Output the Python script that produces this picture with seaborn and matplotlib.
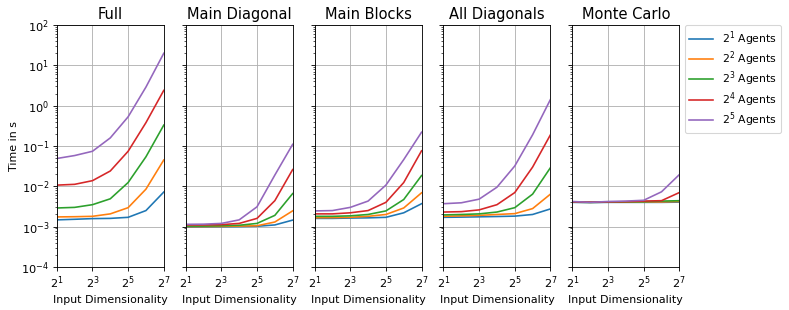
import numpy as np
import pandas as pd
import matplotlib
matplotlib.use("Agg")
import matplotlib.pyplot as plt
import seaborn as sns

dims = [2, 4, 8, 16, 32, 64, 128]
agents = [r"$2^{1}$ Agents", r"$2^{2}$ Agents", r"$2^{3}$ Agents", r"$2^{4}$ Agents", r"$2^{5}$ Agents"]
methods = ["Full", "Main Diagonal", "Main Blocks", "All Diagonals", "Monte Carlo"]

full = [
    [1.47e-3, 1.52e-3, 1.58e-3, 1.6e-3, 1.7e-3, 2.5e-3, 7.2e-3],
    [1.74e-3, 1.76e-3, 1.8e-3, 2.07e-3, 2.95e-3, 8.5e-3, 0.045],
    [2.9e-3, 3.0e-3, 3.5e-3, 4.9e-3, 0.0124, 0.054, 0.33],
    [0.0107, 0.0112, 0.0138, 0.024, 0.074, 0.38, 2.4],
    [0.049, 0.058, 0.074, 0.159, 0.53, 2.9, 20.0],
]
main_diag = [
    [0.97e-3, 0.98e-3, 0.99e-3, 1.0e-3, 1.02e-3, 1.1e-3, 1.45e-3],
    [1.0e-3, 1.0e-3, 1.01e-3, 1.03e-3, 1.05e-3, 1.3e-3, 2.46e-3],
    [1.03e-3, 1.03e-3, 1.05e-3, 1.08e-3, 1.2e-3, 1.9e-3, 6.6e-3],
    [1.1e-3, 1.1e-3, 1.12e-3, 1.2e-3, 1.6e-3, 4.4e-3, 0.026],
    [1.14e-3, 1.15e-3, 1.2e-3, 1.47e-3, 3.1e-3, 0.019, 0.11],
]
main_blocks = [
    [1.6e-3, 1.6e-3, 1.63e-3, 1.65e-3, 1.7e-3, 2.2e-3, 3.7e-3],
    [1.66e-3, 1.67e-3, 1.7e-3, 1.8e-3, 2.0e-3, 2.9e-3, 6.9e-3],
    [1.8e-3, 1.8e-3, 1.85e-3, 2.0e-3, 2.45e-3, 4.7e-3, 0.0185],
    [2.07e-3, 2.07e-3, 2.2e-3, 2.5e-3, 4.0e-3, 0.0124, 0.076],
    [2.45e-3, 2.5e-3, 3.0e-3, 4.3e-3, 0.0107, 0.046, 0.22],
]
all_diag = [
    [1.7e-3, 1.72e-3, 1.75e-3, 1.78e-3, 1.82e-3, 2.0e-3, 2.75e-3],
    [1.8e-3, 1.85e-3, 1.9e-3, 2.0e-3, 2.1e-3, 2.8e-3, 6.4e-3],
    [1.95e-3, 2.0e-3, 2.07e-3, 2.3e-3, 2.95e-3, 6.4e-3, 0.029],
    [2.3e-3, 2.35e-3, 2.6e-3, 3.5e-3, 7.0e-3, 0.030, 0.19],
    [3.7e-3, 3.9e-3, 4.8e-3, 9.5e-3, 0.032, 0.19, 1.43],
]
monte_carlo = [
    [4.0e-3, 3.95e-3, 4.0e-3, 4.0e-3, 4.0e-3, 4.0e-3, 4.05e-3],
    [4.05e-3, 4.0e-3, 4.05e-3, 4.05e-3, 4.1e-3, 4.1e-3, 4.2e-3],
    [4.05e-3, 4.0e-3, 4.05e-3, 4.1e-3, 4.15e-3, 4.3e-3, 4.4e-3],
    [4.1e-3, 4.05e-3, 4.1e-3, 4.15e-3, 4.3e-3, 4.4e-3, 7.0e-3],
    [4.2e-3, 4.0e-3, 4.2e-3, 4.3e-3, 4.5e-3, 7.3e-3, 0.0195],
]
all_data = [full, main_diag, main_blocks, all_diag, monte_carlo]

rows = []
for m, data in zip(methods, all_data):
    for a, series in zip(agents, data):
        for d, v in zip(dims, series):
            rows.append({"method": m, "agents": a, "dim": d, "time": v})
df = pd.DataFrame(rows)

DPI = 78
fig, axes = plt.subplots(1, 5, figsize=(789 / DPI, 310 / DPI), dpi=DPI, sharey=True)
fig.subplots_adjust(left=0.072, right=0.861, top=0.919, bottom=0.139, wspace=0.205)

palette = sns.color_palette("tab10", 5)
for i, (ax, m) in enumerate(zip(axes, methods)):
    sub = df[df["method"] == m]
    sns.lineplot(data=sub, x="dim", y="time", hue="agents", hue_order=agents,
                 palette=palette, ax=ax, legend=(i == 4), linewidth=1.5)
    ax.set_xscale("log", base=2)
    ax.set_yscale("log")
    ax.set_xlim(2, 128)
    ax.set_ylim(1e-4, 1e2)
    ax.set_xticks([2, 8, 32, 128])
    ax.xaxis.set_minor_locator(matplotlib.ticker.NullLocator())
    ax.grid(True, which="major", color="#b0b0b0", linewidth=0.8)
    ax.set_title(m, fontsize=13.5)
    ax.set_xlabel("Input Dimensionality", fontsize=10.2)
    ax.set_ylabel("Time in s", fontsize=10.2)
    ax.tick_params(labelsize=10.5)
    ax.yaxis.labelpad = 2

leg = axes[4].legend(loc="upper left", bbox_to_anchor=(1.05, 1.0), borderaxespad=0,
                     title=None, labelspacing=0.15, handlelength=2.2)

fig.savefig("out.png", dpi=DPI)
